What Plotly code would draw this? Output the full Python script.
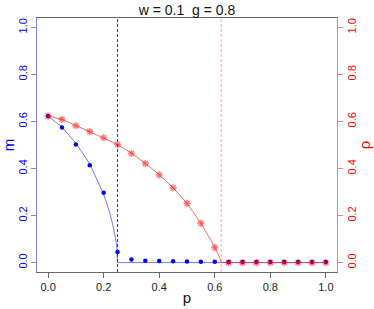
import plotly.graph_objects as go

# sampled points
p_pts = [0.0, 0.05, 0.1, 0.15, 0.2, 0.25, 0.3, 0.35, 0.4, 0.45, 0.5, 0.55, 0.6,
         0.65, 0.7, 0.75, 0.8, 0.85, 0.9, 0.95, 1.0]
m_pts = [0.623, 0.574, 0.502, 0.414, 0.297, 0.045, 0.013, 0.008, 0.007, 0.006,
         0.005, 0.004, 0.004, 0.002, 0.002, 0.002, 0.002, 0.002, 0.002, 0.002, 0.002]
rho_pts = [0.623, 0.609, 0.582, 0.557, 0.531, 0.502, 0.464, 0.421, 0.373, 0.318,
           0.252, 0.167, 0.064, 0.0, 0.0, 0.0, 0.0, 0.0, 0.0, 0.0, 0.0]

# theory curves
p_m_curve = [0.0, 0.05, 0.1, 0.15, 0.2, 0.22, 0.235, 0.24, 0.245, 0.248, 0.25, 1.0]
m_curve = [0.623, 0.576, 0.508, 0.42, 0.29, 0.22, 0.15, 0.125, 0.088, 0.056, 0.0, 0.0]
p_rho_curve = [0.0, 0.05, 0.1, 0.15, 0.2, 0.25, 0.3, 0.35, 0.4, 0.45, 0.5, 0.55,
               0.6, 0.61, 0.618, 0.623, 1.0]
rho_curve = [0.623, 0.609, 0.583, 0.557, 0.531, 0.502, 0.465, 0.422, 0.374, 0.318,
             0.252, 0.168, 0.066, 0.042, 0.02, 0.0, 0.0]

pc_m = 0.25
pc_rho = 0.623

x_ticks = [0.0, 0.2, 0.4, 0.6, 0.8, 1.0]
x_tick_labels = ["0.0", "0.2", "0.4", "0.6", "0.8", "1.0"]
y_ticks = [0.0, 0.2, 0.4, 0.6, 0.8, 1.0]
y_tick_labels = ["0.0", "0.2", "0.4", "0.6", "0.8", "1.0"]

FONT = "Liberation Sans, Arial, Helvetica, sans-serif"
BLUE = "#0000FF"
RED = "#FF0000"

fig = go.Figure()

fig.add_trace(go.Scatter(x=p_m_curve, y=m_curve, mode="lines",
                         line=dict(color="rgba(60,60,255,0.7)", width=1),
                         hoverinfo="skip", showlegend=False))
fig.add_trace(go.Scatter(x=p_pts, y=m_pts, mode="markers",
                         marker=dict(symbol="circle", size=4.5, color=BLUE),
                         showlegend=False))
fig.add_trace(go.Scatter(x=p_rho_curve, y=rho_curve, mode="lines",
                         line=dict(color="rgba(255,40,40,0.7)", width=1),
                         yaxis="y2", hoverinfo="skip", showlegend=False))
fig.add_trace(go.Scatter(x=p_pts, y=rho_pts, mode="markers",
                         marker=dict(symbol="asterisk-open", size=6,
                                     color="rgba(255,0,0,0.5)",
                                     line=dict(color="rgba(255,0,0,0.5)", width=1.5)),
                         yaxis="y2", showlegend=False))

fig.add_shape(type="line", x0=pc_m, x1=pc_m, y0=0, y1=1, xref="x", yref="paper",
              line=dict(color="#2222FF", width=1, dash="3px,2px"))
fig.add_shape(type="line", x0=pc_rho, x1=pc_rho, y0=0, y1=1, xref="x", yref="paper",
              line=dict(color="#FF8888", width=0.8, dash="3px,2px"))

fig.update_layout(
    width=374, height=309,
    margin=dict(l=37, r=37, t=18, b=37, autoexpand=False),
    paper_bgcolor="white", plot_bgcolor="white",
    font=dict(family=FONT, size=11, color="#222222"),
    title=dict(text="w = 0.1&nbsp;&nbsp;g = 0.8", x=0.5, xanchor="center", y=0.967, yanchor="middle",
               font=dict(family=FONT, size=14, color="#111111")),
    xaxis=dict(range=[-0.04, 1.04], tickvals=x_ticks, ticktext=x_tick_labels,
               automargin=False,
               showgrid=False, zeroline=False, showline=True, linecolor="#666666",
               linewidth=1, mirror=True, ticks="outside", ticklen=5, tickcolor="#666666",
               tickfont=dict(size=11, color="#222222"),
               title=dict(text="p", font=dict(size=15, color="#111111"), standoff=0)),
    yaxis=dict(range=[-0.04, 1.04], tickvals=y_ticks, ticktext=y_tick_labels,
               automargin=False,
               showgrid=False, zeroline=False, showline=True, linecolor="#8080FF",
               linewidth=1, ticks="outside", ticklen=5, tickcolor="#8080FF",
               tickangle=-90, tickfont=dict(size=11, color=BLUE),
               title=dict(text="m", font=dict(size=15, color=BLUE), standoff=2)),
    yaxis2=dict(range=[-0.04, 1.04], tickvals=y_ticks, ticktext=y_tick_labels,
                overlaying="y", side="right", automargin=False,
                showgrid=False, zeroline=False, showline=True, linecolor="#F08080",
                linewidth=1, ticks="outside", ticklen=5, tickcolor="#F08080",
                tickangle=-90, tickfont=dict(size=11, color=RED),
                title=dict(text="ρ", font=dict(size=15, color=RED), standoff=2)),
)

fig.write_html("out.html", config={"displayModeBar": False},
               post_script="document.body.style.margin='0';")
